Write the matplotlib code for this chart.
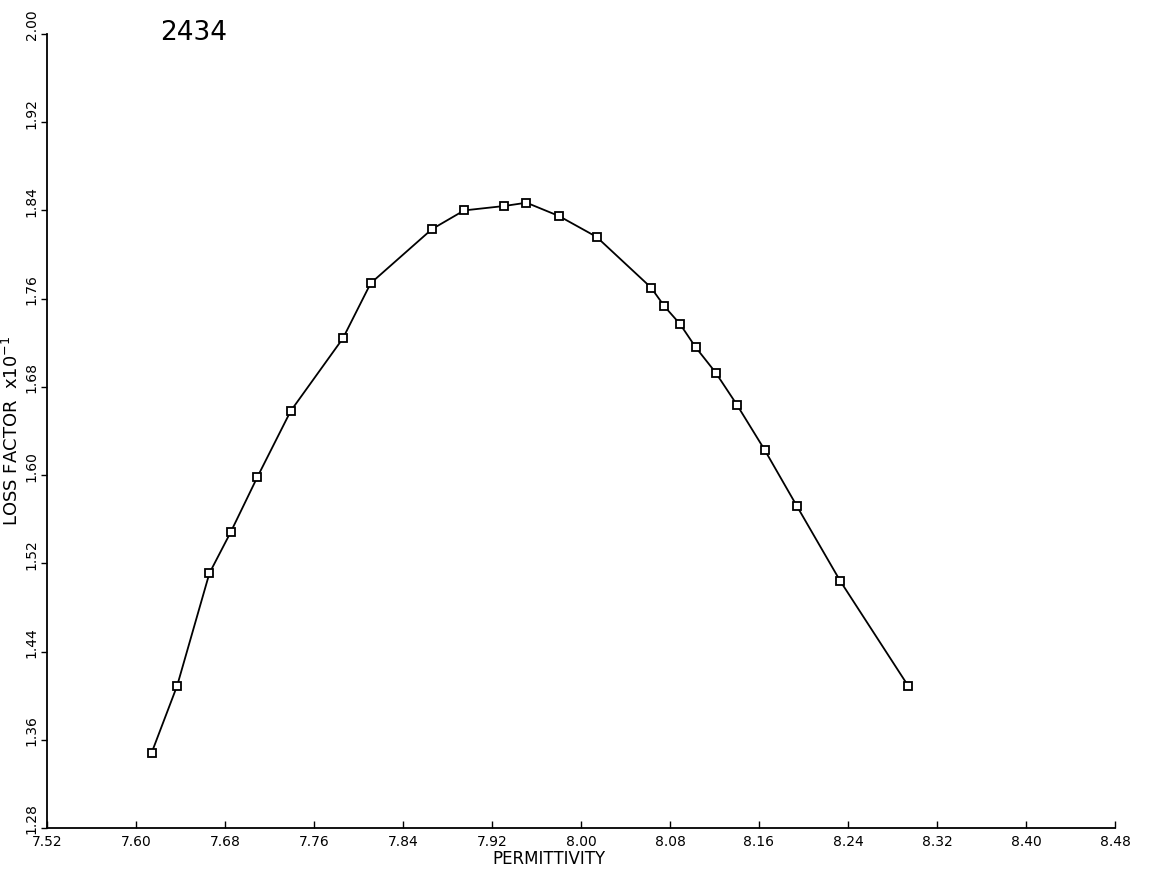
import matplotlib

matplotlib.use("Agg")
import matplotlib.pyplot as plt
import matplotlib.transforms as mtransforms
import numpy as np

# values
permittivity = [7.614, 7.637, 7.666, 7.685, 7.709, 7.739, 7.786, 7.811, 7.866, 7.895, 7.931, 7.951,
                7.980, 8.014, 8.063, 8.075, 8.089, 8.103, 8.121, 8.140, 8.165, 8.194, 8.233, 8.294]
loss_factor = [1.348, 1.409, 1.511, 1.548, 1.598, 1.658, 1.724, 1.774, 1.823, 1.840, 1.844, 1.847,
               1.835, 1.816, 1.770, 1.753, 1.737, 1.716, 1.693, 1.664, 1.623, 1.572, 1.504, 1.409]
x_ticks = [7.52, 7.60, 7.68, 7.76, 7.84, 7.92, 8.00, 8.08, 8.16, 8.24, 8.32, 8.40, 8.48]
y_ticks = [1.28, 1.36, 1.44, 1.52, 1.60, 1.68, 1.76, 1.84, 1.92, 2.00]

plt.rcParams["font.family"] = ["DejaVu Sans"]

fig = plt.figure(figsize=(11.49, 8.71), dpi=100)
ax = fig.add_axes([0.0409, 0.0494, 0.9295, 0.9116])

ax.plot(permittivity, loss_factor, "-", color="black", lw=1.3,
        marker="s", ms=6, mfc="white", mec="black", mew=1.3)

ax.set_xlim(x_ticks[0], x_ticks[-1])
ax.set_ylim(y_ticks[0], y_ticks[-1])
ax.set_xticks(x_ticks)
ax.set_yticks(y_ticks)
ax.set_xticklabels([f"{v:.2f}" for v in x_ticks], fontsize=10)
ax.set_yticklabels([f"{v:.2f}" for v in y_ticks], fontsize=10, rotation=90, va="center")
ax.tick_params(axis="x", direction="in", length=5, pad=5, width=1)
ax.tick_params(axis="y", direction="out", length=4, pad=2, width=1)

# y labels sit a little above their ticks, as on the plotter output
shift = mtransforms.ScaledTranslation(0, 9 / 100, fig.dpi_scale_trans)
for lab in ax.get_yticklabels():
    lab.set_transform(lab.get_transform() + shift)

for side in ("top", "right"):
    ax.spines[side].set_visible(False)
for side in ("left", "bottom"):
    ax.spines[side].set_linewidth(1.3)

ax.set_xlabel("PERMITTIVITY", fontsize=12)
ax.xaxis.set_label_coords(0.47, -0.028)
ax.set_ylabel(r"LOSS FACTOR  x10$^{-1}$", fontsize=13, labelpad=2)

fig.text(0.139, 0.962, "2434", fontsize=19, ha="left", va="center")

fig.savefig("out.png", dpi=100)
